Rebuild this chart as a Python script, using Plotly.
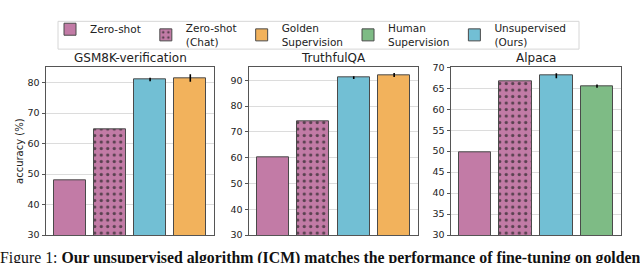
import plotly.graph_objects as go

datasets = ["GSM8K-verification", "TruthfulQA", "Alpaca"]
zero_shot = [48.0, 60.2, 49.7]
zero_shot_chat = [64.8, 74.0, 66.6]
unsupervised = [81.0, 91.0, 68.0]
unsupervised_err = [0.6, 0.5, 0.6]
golden = [81.5, 92.0, None]
golden_err = [1.2, 0.8, None]
human = [None, None, 65.5]
human_err = [None, None, 0.4]
y_ranges = [[30, 85], [30, 95], [30, 70]]
y_dticks = [10, 10, 5]

W, H = 640, 263
C_ZS = "#C27BA6"
C_UN = "#72BFD4"
C_GO = "#F2B25C"
C_HU = "#7EBB85"
EDGE = "#4a4a4a"

panel_px = [(46, 214), (249, 418), (451, 621)]
top_px, bot_px = 64, 239

fig = go.Figure()
shown = set()


def add_bar(i, x, y, err, name, color, pattern=None, rank=0):
    if y is None:
        return
    ax = "" if i == 0 else str(i + 1)
    kw = {}
    if err is not None:
        kw["error_y"] = dict(type="data", array=[err], color="black", thickness=1.6, width=0)
    marker = dict(color=color, line=dict(color=EDGE, width=1))
    if pattern:
        marker["pattern"] = dict(shape=".", fgcolor="#222222", fgopacity=0.65, bgcolor=color,
                                 size=6.5, solidity=0.2, fillmode="replace")
    fig.add_trace(go.Bar(
        x=[x], y=[y], width=0.8, marker=marker, name=name,
        legendgroup=name, showlegend=name not in shown, legendrank=rank,
        xaxis="x" + ax, yaxis="y" + ax, **kw))
    shown.add(name)


for i in range(3):
    add_bar(i, 0, zero_shot[i], None, "Zero-shot", C_ZS, rank=1)
    add_bar(i, 1, zero_shot_chat[i], None, "Zero-shot<br>(Chat)", C_ZS, pattern=True, rank=2)
    add_bar(i, 2, unsupervised[i], unsupervised_err[i], "Unsupervised<br>(Ours)", C_UN, rank=5)
    add_bar(i, 3, golden[i], golden_err[i], "Golden<br>Supervision", C_GO, rank=3)
    add_bar(i, 3, human[i], human_err[i], "Human<br>Supervision", C_HU, rank=4)

layout = dict(
    width=W, height=H, margin=dict(l=0, r=0, t=0, b=0),
    paper_bgcolor="white", plot_bgcolor="white",
    font=dict(family="DejaVu Sans", color="#222222", size=9.5),
    bargap=0, showlegend=True,
    legend=dict(orientation="h", x=50 / W, y=1 - 30.5 / H, xanchor="left", yanchor="middle",
                borderwidth=0, bgcolor="rgba(0,0,0,0)", font=dict(size=10.5),
                traceorder="normal", itemwidth=30, valign="middle"),
    shapes=[dict(type="rect", xref="paper", yref="paper", x0=58 / W, x1=579 / W,
                 y0=1 - 45 / H, y1=1 - 16 / H, line=dict(color="#d6d6d6", width=1),
                 fillcolor="rgba(0,0,0,0)", layer="below")],
)
annotations = []
for i, (x0, x1) in enumerate(panel_px):
    s = "" if i == 0 else str(i + 1)
    layout["xaxis" + s] = dict(domain=[x0 / W, x1 / W], range=[-0.59, 3.59], showticklabels=False,
                               ticks="", showgrid=False, zeroline=False, showline=True, mirror=True,
                               linecolor="#555555", linewidth=1, anchor="y" + s, fixedrange=True)
    layout["yaxis" + s] = dict(domain=[1 - bot_px / H, 1 - top_px / H], range=y_ranges[i], dtick=y_dticks[i],
                               tick0=30, ticks="outside", ticklen=3.5, tickcolor="#555555",
                               showgrid=True, gridcolor="#dcdcdc", gridwidth=1, zeroline=False,
                               showline=True, mirror=True, linecolor="#555555", linewidth=1,
                               anchor="x" + s, tickfont=dict(size=9.5), fixedrange=True)
    annotations.append(dict(text=datasets[i], x=(x0 + x1) / 2 / W, y=1 - top_px / H, xref="paper", yref="paper",
                            xanchor="center", yanchor="bottom", showarrow=False, font=dict(size=12)))
layout["yaxis"]["title"] = dict(text="accuracy (%)", font=dict(size=10), standoff=1)
annotations.append(dict(
    text="Figure 1: <b>Our unsupervised algorithm (ICM) matches the performance of fine-tuning on golden</b>",
    x=-2 / W, y=1 - 251 / H, xref="paper", yref="paper", xanchor="left", yanchor="top",
    showarrow=False, font=dict(family="Liberation Serif", size=15.8, color="#111111")))
layout["annotations"] = annotations
fig.update_layout(**layout)
fig.write_html("out.html", config={"displayModeBar": False},
               post_script="document.body.style.margin='0px';")
